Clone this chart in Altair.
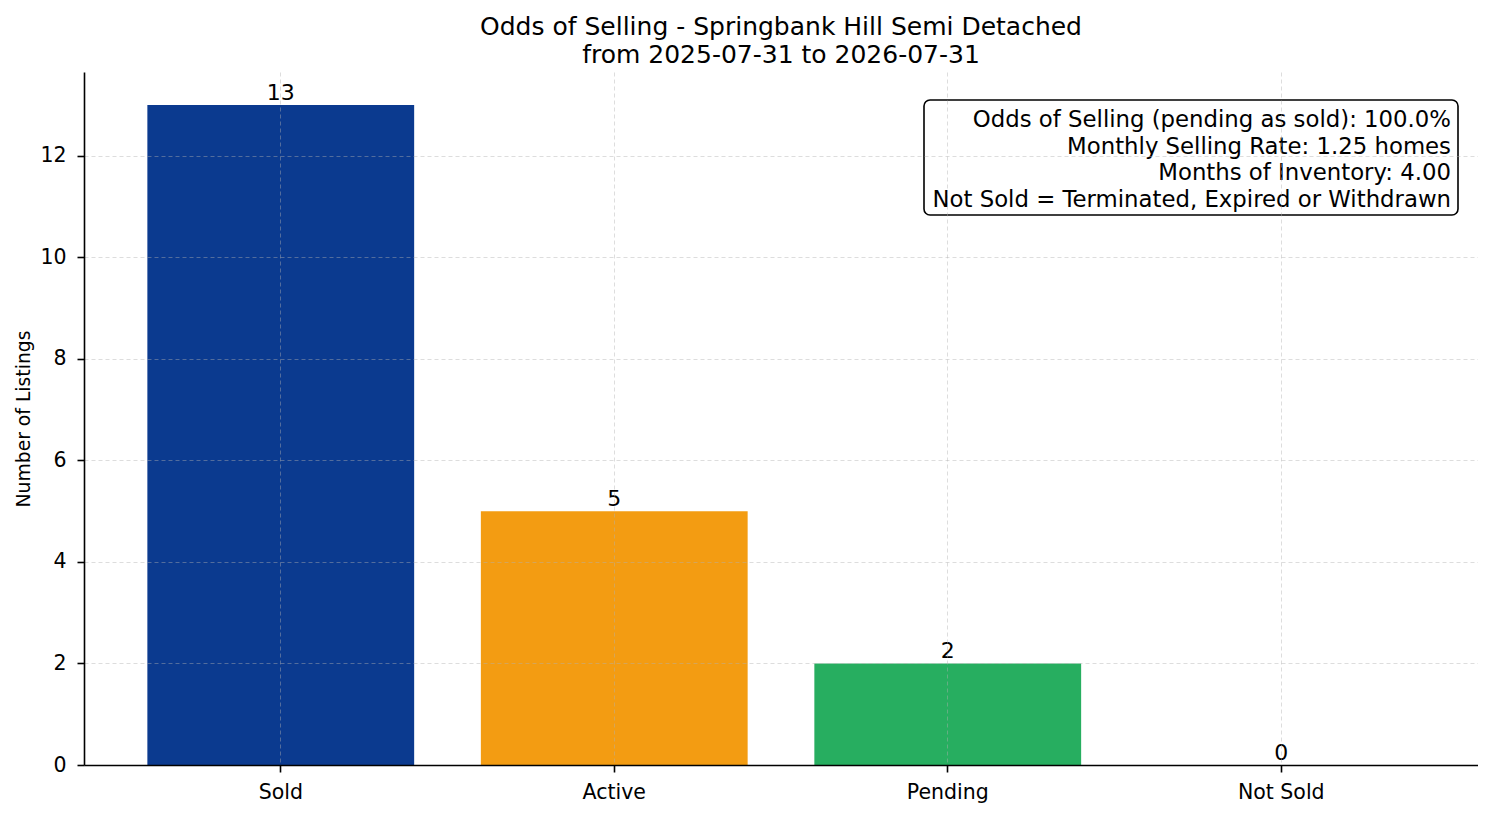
import altair as alt
import pandas as pd

# Values
statuses = ["Sold", "Active", "Pending", "Not Sold"]
counts = [13, 5, 2, 0]
bar_colors = ["#0b3a8f", "#f39c12", "#27ae60", "#c0392b"]

title_lines = ["Odds of Selling - Springbank Hill Semi Detached", "from 2025-07-31 to 2026-07-31"]
info_lines = [
    "Odds of Selling (pending as sold): 100.0%",
    "Monthly Selling Rate: 1.25 homes",
    "Months of Inventory: 4.00",
    "Not Sold = Terminated, Expired or Withdrawn",
]
y_ticks = [0, 2, 4, 6, 8, 10, 12]

df = pd.DataFrame({"status": statuses, "count": counts})
one_row = pd.DataFrame({"k": [0]})

FONT = "DejaVu Sans"
W, H = 1394, 693

x_enc = alt.X(
    "status:N",
    sort=statuses,
    title=None,
    scale=alt.Scale(paddingInner=0.2, paddingOuter=0.19),
    axis=alt.Axis(
        labelAngle=0, labelFontSize=20.5, labelColor="black", labelPadding=10,
        tickSize=7, tickColor="black", tickWidth=1.6, bandPosition=0.5,
        domainColor="black", domainWidth=1.6,
        grid=True, gridColor="#b0b0b0", gridOpacity=0.55, gridDash=[4, 3], gridWidth=0.8,
        zindex=1,
    ),
)

bars = alt.Chart(df).mark_bar().encode(
    x=x_enc,
    y=alt.Y(
        "count:Q",
        title="Number of Listings",
        scale=alt.Scale(domain=[0, 13.65], nice=False),
        axis=alt.Axis(
            values=y_ticks, labelFontSize=20.5, labelColor="black", labelPadding=11,
            titleFontSize=18.75, titleFontWeight="normal", titleColor="black", titlePadding=6,
            tickSize=7, tickColor="black", tickWidth=1.6,
            domainColor="black", domainWidth=1.6,
            grid=True, gridColor="#b0b0b0", gridOpacity=0.55, gridDash=[4, 3], gridWidth=0.8,
            zindex=1,
        ),
    ),
    color=alt.Color("status:N", sort=statuses,
                    scale=alt.Scale(domain=statuses, range=bar_colors), legend=None),
)

labels = alt.Chart(df).mark_text(
    baseline="bottom", dy=0, fontSize=22, font=FONT, color="black"
).encode(
    x=alt.X("status:N", sort=statuses),
    y="count:Q",
    text="count:Q",
)

# Info box in the upper right corner
box = alt.Chart(one_row).mark_rect(
    fill="white", stroke="black", strokeWidth=1.6, cornerRadius=6
).encode(
    x=alt.value(840), x2=alt.value(1374), y=alt.value(28), y2=alt.value(143)
)

info = alt.Chart(one_row).mark_text(
    align="right", baseline="middle", fontSize=22.8, font=FONT, color="black", lineHeight=26.5
).encode(
    x=alt.value(1367), y=alt.value(48), text=alt.value(info_lines)
)

chart = alt.layer(bars, labels, box, info).properties(
    width=W,
    height=H,
    padding={"left": 6, "top": 7, "right": 0, "bottom": 0},
    title=alt.TitleParams(text=title_lines, fontSize=25, fontWeight="normal", font=FONT,
                          color="black", anchor="middle", offset=4, lineHeight=28),
).configure(font=FONT).configure_view(stroke=None)

chart.save("out.html", embed_options={"renderer": "svg", "actions": False})
